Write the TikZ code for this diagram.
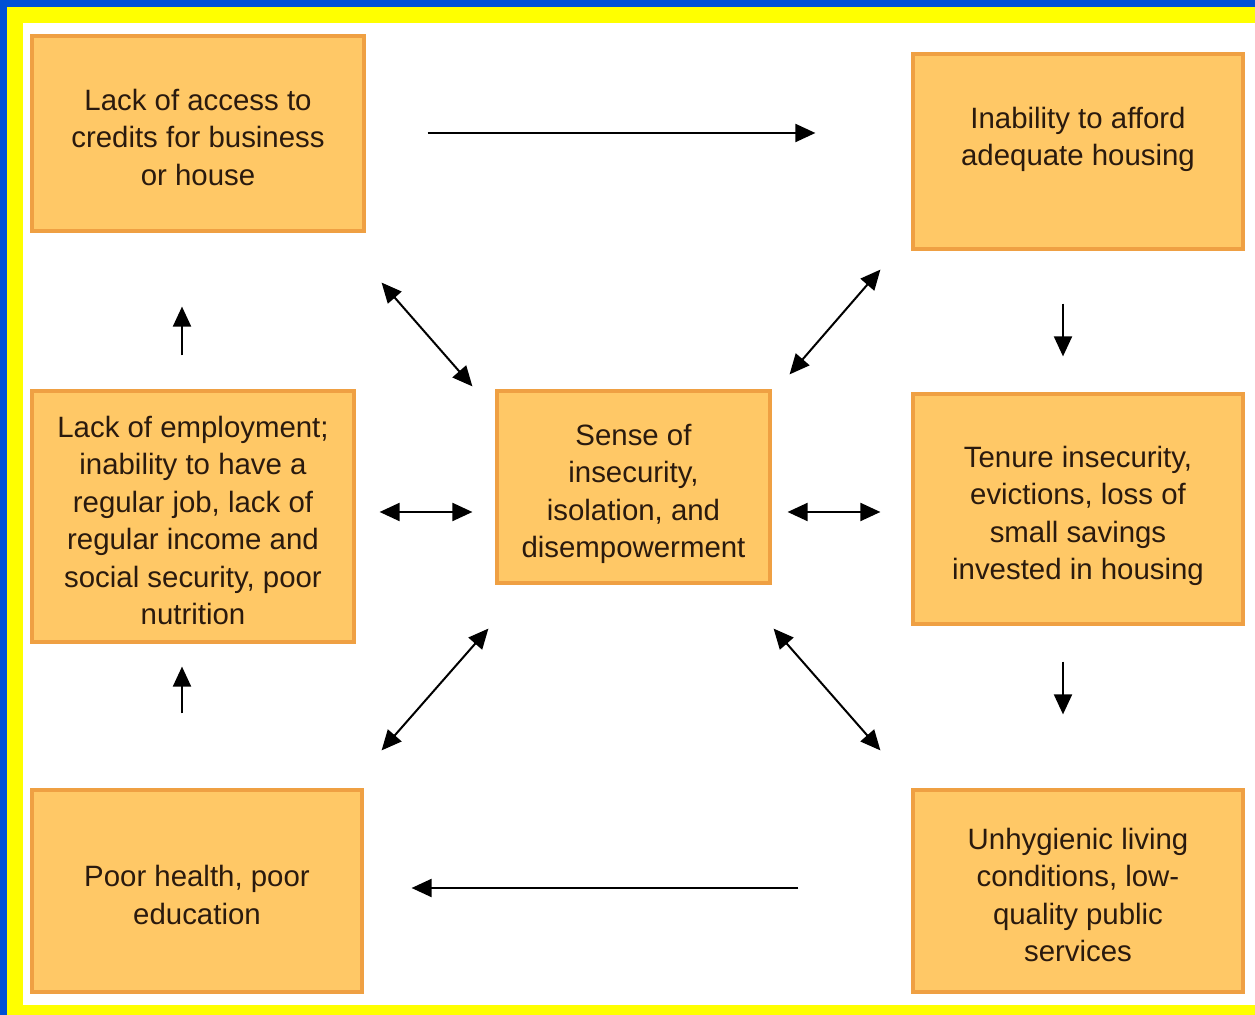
\documentclass[tikz,border=0pt]{standalone}
\usepackage{fontspec}
\setmainfont{Liberation Sans}
\usetikzlibrary{calc,arrows.meta}
\definecolor{frameblue}{HTML}{0050D4}
\definecolor{frameyellow}{HTML}{FFFF00}
\definecolor{boxfill}{HTML}{FFC866}
\definecolor{boxline}{HTML}{EFA043}
\definecolor{textc}{HTML}{2A1A0E}
\newcommand{\boxlines}[1]{\raisebox{-3.5pt}[\height][\depth]{\begin{tabular}{@{}c@{}}#1\end{tabular}}}
\tikzset{
  box/.style={draw=boxline, fill=boxfill, line width=1.6pt, align=center, inner sep=0pt,
    font=\fontsize{14.7}{18.75}\selectfont, text=textc},
  onearrow/.style={line width=1pt, -{Triangle[length=10pt,width=9pt]}},
  twoarrow/.style={line width=1pt, {Triangle[length=10pt,width=9pt]}-{Triangle[length=10pt,width=9pt]}}
}
\begin{document}
\begin{tikzpicture}[x=0.5pt,y=-0.5pt]
\useasboundingbox (0,0) rectangle (1255,1015);
\fill[frameblue] (0,0) rectangle (1255,1015);
\fill[frameyellow] (7,7) rectangle (1255,1015);
\fill[white] (23,23) rectangle (1255,1005);

\node[box, minimum width=166pt, minimum height=97.5pt] (b1) at (198,133.5)
  {\boxlines{Lack of access to\\credits for business\\or house}};
\node[box, minimum width=165pt, minimum height=97.5pt] (b2) at (1078,151.5)
  {\boxlines{Inability to afford\\adequate housing\\\mbox{}}};
\node[box, minimum width=161pt, minimum height=125.5pt] (b3) at (193,516.5)
  {\boxlines{Lack of employment;\\inability to have a\\regular job, lack of\\regular income and\\social security, poor\\nutrition}};
\node[box, minimum width=136.5pt, minimum height=96pt] (b4) at (633.5,487)
  {\boxlines{Sense of\\insecurity,\\isolation, and\\disempowerment}};
\node[box, minimum width=165pt, minimum height=115pt] (b5) at (1078,509)
  {\boxlines{Tenure insecurity,\\evictions, loss of\\small savings\\invested in housing}};
\node[box, minimum width=165pt, minimum height=101pt] (b6) at (197,891)
  {\boxlines{Poor health, poor\\education}};
\node[box, minimum width=165pt, minimum height=101pt] (b7) at (1078,891)
  {\boxlines{Unhygienic living\\conditions, low-\\quality public\\services}};

% one-way arrows
\draw[onearrow] ($(b1.east)+(62,-0.5)$) -- ($(b2.west)+(-96,-18.5)$);
\draw[onearrow] ($(b7.west)+(-113,-3)$) -- ($(b6.east)+(48,-3)$);
\draw[onearrow] ($(b3.north)+(-11,-34)$) -- ($(b1.south)+(-16,74)$);
\draw[onearrow] ($(b6.north)+(-15,-75)$) -- ($(b3.south)+(-11,23)$);
\draw[onearrow] ($(b2.south)+(-15,53)$) -- ($(b5.north)+(-15,-36)$);
\draw[onearrow] ($(b5.south)+(-15,36)$) -- ($(b7.north)+(-15,-74)$);

% two-way arrows
\draw[twoarrow] ($(b1.south east)+(16,50)$) -- ($(b4.north west)+(-23,-3)$);
\draw[twoarrow] ($(b2.south west)+(-31,19)$) -- ($(b4.north east)+(18,-15)$);
\draw[twoarrow] ($(b3.east)+(24,-4.5)$) -- ($(b4.west)+(-23,25)$);
\draw[twoarrow] ($(b4.east)+(16,25)$) -- ($(b5.west)+(-31,3)$);
\draw[twoarrow] ($(b4.south west)+(-7,44)$) -- ($(b6.north east)+(18,-38)$);
\draw[twoarrow] ($(b4.south east)+(2,44)$) -- ($(b7.north west)+(-31,-38)$);
\end{tikzpicture}
\end{document}
